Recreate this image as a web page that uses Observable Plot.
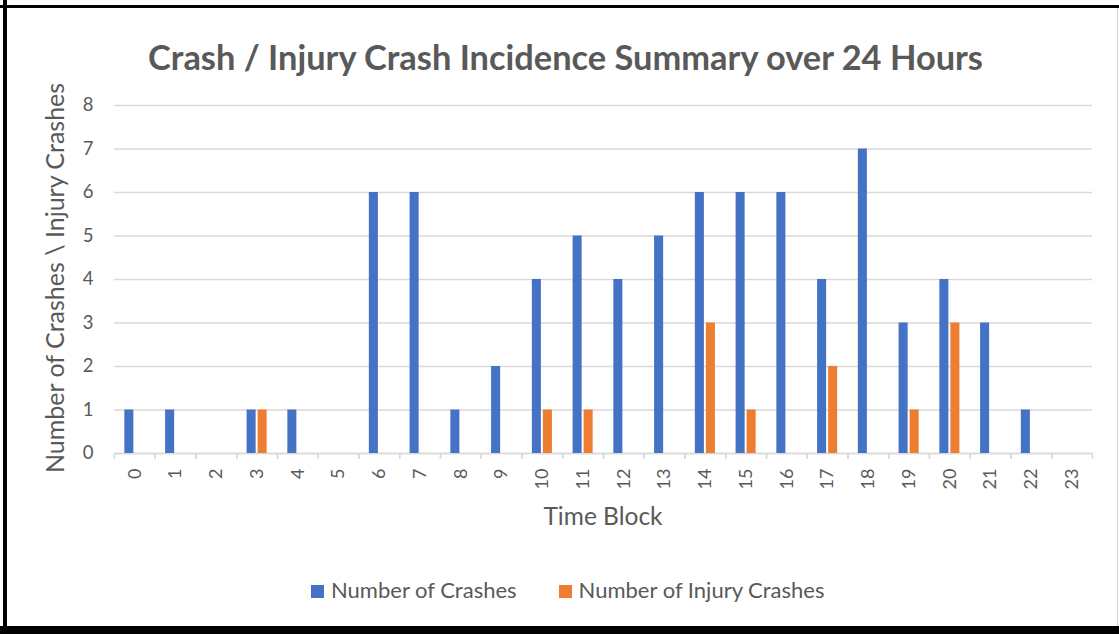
<!DOCTYPE html>
<html><head><meta charset="utf-8">
<script src="https://cdn.jsdelivr.net/npm/d3@7"></script>
<script src="https://cdn.jsdelivr.net/npm/@observablehq/plot@0.6"></script>
<style>
html,body{margin:0;padding:0;background:#fff;}
#wrap{position:relative;width:1119px;height:634px;overflow:hidden;font-family:Lato,"Open Sans",sans-serif;color:#595959;background:#fff;}
#wrap svg{position:absolute;left:0;top:0;}
.t{position:absolute;white-space:nowrap;line-height:1;}
.b{position:absolute;}
</style></head><body><div id="wrap"></div>
<script>
// ---- data ----
const hours = [0,1,2,3,4,5,6,7,8,9,10,11,12,13,14,15,16,17,18,19,20,21,22,23];
const crashes = [1,1,0,1,1,0,6,6,1,2,4,5,4,5,6,6,6,4,7,3,4,3,1,0];
const injuryCrashes = [0,0,0,1,0,0,0,0,0,0,1,1,0,0,3,1,0,2,0,1,3,0,0,0];
const seriesNames = ["Number of Crashes", "Number of Injury Crashes"];
const seriesColors = ["#4472C4", "#ED7D31"];
const yTicks = [0,1,2,3,4,5,6,7,8];
const titleText = "Crash / Injury Crash Incidence Summary over 24 Hours";
const xTitle = "Time Block";
const yTitle = "Number of Crashes \\ Injury Crashes";

const table = hours.flatMap((h, i) => [
  {hour: h, series: seriesNames[0], value: crashes[i]},
  {hour: h, series: seriesNames[1], value: injuryCrashes[i]}
]);

// ---- layout ----
const W = 1119, H = 540, ML = 114, MR = 27, MT = 105, MB = 87;
const bw = (W - ML - MR) / hours.length;
const grey = "#d9d9d9", txt = "#595959";

const plot = Plot.plot({
  width: W, height: H,
  marginLeft: ML, marginRight: MR, marginTop: MT, marginBottom: MB,
  style: {fontFamily: "Lato, 'Open Sans', sans-serif", color: txt, background: "transparent", overflow: "visible"},
  fx: {domain: hours, padding: 0, round: false, label: null},
  x: {domain: seriesNames, paddingInner: 0.18, paddingOuter: 0.94, round: false, axis: null},
  y: {domain: [0, 8], label: null},
  color: {domain: seriesNames, range: seriesColors},
  marks: [
    Plot.gridY(yTicks, {stroke: grey, strokeOpacity: 1, strokeWidth: 1.5}),
    Plot.ruleY([0], {stroke: grey, strokeWidth: 1.5}),
    Plot.barY(table, {fx: "hour", x: "series", y: "value", fill: "series"}),
    Plot.axisY(yTicks, {tickSize: 0, tickPadding: 21, fontSize: 18.5, label: null, fill: txt}),
    Plot.axisFx({anchor: "bottom", tickSize: 0, tickPadding: 15, tickRotate: -90, textAnchor: "end", lineAnchor: "middle", fontSize: 18, label: null, fill: txt}),
    Plot.axisFx({anchor: "bottom", fill: "none", stroke: grey, strokeWidth: 1.5, tickSize: 6, dx: -bw / 2, label: null}),
    Plot.axisFx({anchor: "bottom", fill: "none", stroke: grey, strokeWidth: 1.5, tickSize: 6, dx: bw / 2, label: null})
  ]
});

const wrap = document.getElementById("wrap");
wrap.appendChild(plot);

function addText(str, css) {
  const d = document.createElement("div");
  d.className = "t";
  d.textContent = str;
  Object.assign(d.style, css);
  wrap.appendChild(d);
  return d;
}
// title
addText(titleText, {left: "565.5px", top: "40px", transform: "translateX(-50%)", fontSize: "34.4px", fontWeight: "700"});
// x title
addText(xTitle, {left: (ML + (W - ML - MR) / 2) + "px", top: "504px", transform: "translateX(-50%)", fontSize: "24.5px"});
// y title
addText(yTitle, {left: "53.5px", top: "278px", transform: "translate(-50%,-50%) rotate(-90deg)", fontSize: "25px"});

// legend
const leg = document.createElement("div");
Object.assign(leg.style, {position: "absolute", left: "311px", top: "579px", display: "flex", alignItems: "center", fontSize: "22px", lineHeight: "1", color: txt, whiteSpace: "nowrap"});
seriesNames.forEach((name, i) => {
  const sw = document.createElement("span");
  Object.assign(sw.style, {display: "inline-block", width: "13px", height: "13px", background: seriesColors[i], marginRight: "7px", marginLeft: i ? "42px" : "0", position: "relative", top: "1px"});
  const lb = document.createElement("span");
  lb.textContent = name;
  leg.appendChild(sw); leg.appendChild(lb);
});
wrap.appendChild(leg);

// chart border (black left/top/bottom, light right edge)
[["3px","0px","4px","634px","#000"],
 ["0px","5px","1119px","3px","#000"],
 ["0px","626px","1119px","8px","#000"],
 ["1117px","8px","1px","618px","#d0d0d0"]].forEach(([l,t,w,h,c]) => {
  const d = document.createElement("div");
  d.className = "b";
  Object.assign(d.style, {left: l, top: t, width: w, height: h, background: c});
  wrap.appendChild(d);
});
</script></body></html>
